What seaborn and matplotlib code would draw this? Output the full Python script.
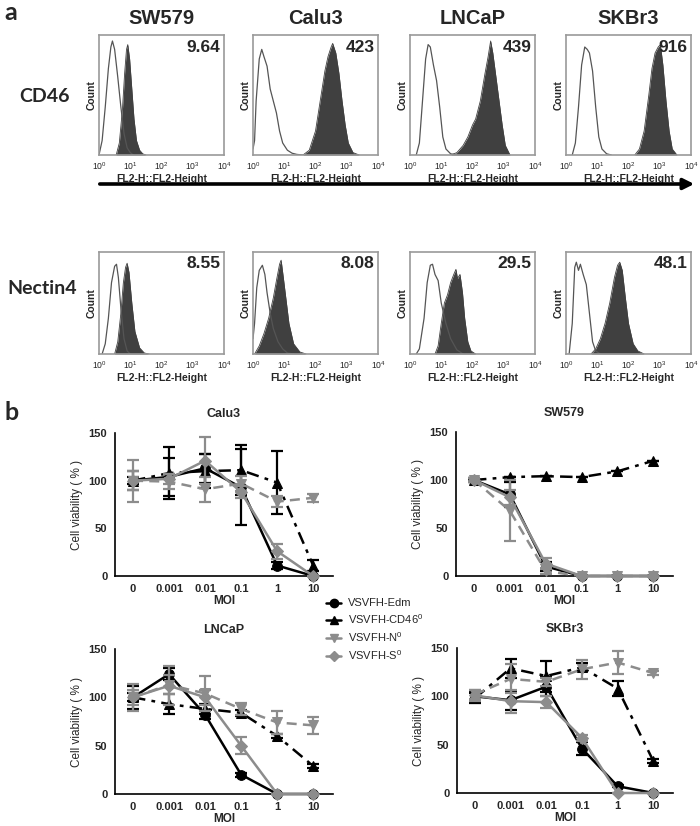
import matplotlib
matplotlib.use("Agg")
import matplotlib.pyplot as plt
import seaborn as sns
import numpy as np
from matplotlib.lines import Line2D
from matplotlib.patches import FancyArrowPatch

# ---- panel a: flow cytometry histograms (log10 FL2 position, relative count) ----
cell_lines = ["SW579", "Calu3", "LNCaP", "SKBr3"]
cd46_mfi = ["9.64", "423", "439", "916"]
nectin4_mfi = ["8.55", "8.08", "29.5", "48.1"]
hist_ticks = ["10$^0$", "10$^1$", "10$^2$", "10$^3$", "10$^4$"]

# CD46 row: isotype (open) and stained (filled)
sw579_cd46_iso = [(0.0, 0.0), (0.1, 0.12), (0.2, 0.4), (0.3, 0.72), (0.38, 0.9), (0.43, 0.95), (0.5, 0.88),
                  (0.6, 0.65), (0.7, 0.4), (0.8, 0.18), (0.9, 0.06), (1.0, 0.02), (1.1, 0.0)]
sw579_cd46_ab = [(0.55, 0.0), (0.65, 0.1), (0.75, 0.38), (0.82, 0.68), (0.88, 0.88), (0.92, 0.92), (0.98, 0.8),
                 (1.05, 0.55), (1.12, 0.3), (1.2, 0.12), (1.3, 0.04), (1.4, 0.01), (1.5, 0.0)]
calu3_cd46_iso = [(0.0, 0.05), (0.05, 0.12), (0.1, 0.45), (0.2, 0.8), (0.28, 0.88), (0.35, 0.82), (0.45, 0.74),
                  (0.55, 0.55), (0.65, 0.45), (0.75, 0.35), (0.85, 0.2), (0.95, 0.1), (1.1, 0.04), (1.25, 0.015),
                  (1.4, 0.005), (1.6, 0.0)]
calu3_cd46_ab = [(1.6, 0.0), (1.8, 0.04), (2.0, 0.2), (2.15, 0.45), (2.3, 0.7), (2.4, 0.82), (2.5, 0.9),
                 (2.55, 0.93), (2.65, 0.85), (2.75, 0.68), (2.85, 0.45), (2.95, 0.25), (3.05, 0.1), (3.2, 0.02),
                 (3.4, 0.0)]
lncap_cd46_iso = [(0.2, 0.0), (0.3, 0.1), (0.4, 0.45), (0.5, 0.8), (0.58, 0.92), (0.65, 0.9), (0.75, 0.75),
                  (0.85, 0.62), (0.95, 0.4), (1.05, 0.15), (1.15, 0.05), (1.3, 0.01), (1.5, 0.0)]
lncap_cd46_ab = [(1.3, 0.0), (1.5, 0.02), (1.7, 0.08), (1.85, 0.15), (2.0, 0.25), (2.1, 0.3), (2.25, 0.45),
                 (2.4, 0.68), (2.5, 0.82), (2.58, 0.95), (2.65, 0.85), (2.75, 0.65), (2.85, 0.45), (2.95, 0.25),
                 (3.05, 0.08), (3.2, 0.0)]
skbr3_cd46_iso = [(0.2, 0.0), (0.3, 0.1), (0.4, 0.4), (0.5, 0.75), (0.6, 0.9), (0.68, 0.88), (0.75, 0.85),
                  (0.85, 0.7), (0.95, 0.4), (1.05, 0.15), (1.15, 0.05), (1.3, 0.01), (1.45, 0.0)]
skbr3_cd46_ab = [(2.2, 0.0), (2.35, 0.05), (2.5, 0.2), (2.65, 0.5), (2.75, 0.72), (2.85, 0.85), (2.95, 0.9),
                 (3.02, 0.92), (3.1, 0.75), (3.2, 0.45), (3.3, 0.2), (3.4, 0.05), (3.55, 0.0)]

# Nectin4 row
sw579_nec_iso = [(0.1, 0.0), (0.2, 0.1), (0.3, 0.35), (0.4, 0.7), (0.5, 0.86), (0.56, 0.88), (0.62, 0.75),
                 (0.7, 0.45), (0.8, 0.15), (0.9, 0.03), (1.0, 0.0)]
sw579_nec_ab = [(0.5, 0.0), (0.6, 0.12), (0.7, 0.4), (0.78, 0.7), (0.85, 0.85), (0.9, 0.89), (0.96, 0.8),
                (1.05, 0.5), (1.15, 0.22), (1.3, 0.06), (1.45, 0.01), (1.6, 0.0)]
calu3_nec_iso = [(0.0, 0.15), (0.05, 0.3), (0.12, 0.65), (0.2, 0.82), (0.3, 0.87), (0.38, 0.78), (0.45, 0.6),
                 (0.55, 0.4), (0.65, 0.25), (0.8, 0.12), (0.95, 0.05), (1.1, 0.01), (1.3, 0.0)]
calu3_nec_ab = [(0.05, 0.0), (0.2, 0.08), (0.35, 0.2), (0.5, 0.35), (0.65, 0.55), (0.75, 0.72), (0.85, 0.88),
                (0.9, 0.92), (0.97, 0.75), (1.05, 0.55), (1.15, 0.3), (1.3, 0.1), (1.5, 0.02), (1.7, 0.0)]
lncap_nec_iso = [(0.2, 0.0), (0.3, 0.05), (0.45, 0.35), (0.55, 0.7), (0.65, 0.87), (0.72, 0.88), (0.8, 0.78),
                 (0.9, 0.72), (1.0, 0.5), (1.15, 0.3), (1.3, 0.15), (1.5, 0.04), (1.7, 0.0)]
lncap_nec_ab = [(0.8, 0.0), (0.9, 0.08), (1.0, 0.3), (1.1, 0.5), (1.2, 0.58), (1.3, 0.7), (1.4, 0.78),
                (1.47, 0.83), (1.52, 0.74), (1.6, 0.78), (1.68, 0.6), (1.75, 0.35), (1.85, 0.12), (1.95, 0.03),
                (2.1, 0.0)]
skbr3_nec_iso = [(0.1, 0.0), (0.2, 0.3), (0.28, 0.85), (0.33, 0.9), (0.4, 0.82), (0.46, 0.88), (0.55, 0.78),
                 (0.65, 0.68), (0.75, 0.4), (0.85, 0.12), (0.95, 0.03), (1.1, 0.0)]
skbr3_nec_ab = [(0.8, 0.0), (0.95, 0.05), (1.1, 0.15), (1.25, 0.3), (1.4, 0.5), (1.55, 0.75), (1.65, 0.87),
                (1.72, 0.9), (1.8, 0.82), (1.9, 0.55), (2.0, 0.3), (2.15, 0.1), (2.3, 0.03), (2.5, 0.0)]

cd46_curves = [(sw579_cd46_iso, sw579_cd46_ab), (calu3_cd46_iso, calu3_cd46_ab),
               (lncap_cd46_iso, lncap_cd46_ab), (skbr3_cd46_iso, skbr3_cd46_ab)]
nec_curves = [(sw579_nec_iso, sw579_nec_ab), (calu3_nec_iso, calu3_nec_ab),
              (lncap_nec_iso, lncap_nec_ab), (skbr3_nec_iso, skbr3_nec_ab)]

# ---- panel b: cell viability (%) vs MOI ----
moi_labels = ["0", "0.001", "0.01", "0.1", "1", "10"]
virus_names = ["VSVFH-Edm", "VSVFH-CD46$^0$", "VSVFH-N$^0$", "VSVFH-S$^0$"]

calu3_edm = [100, 104, 113, 93, 11, 0]
calu3_edm_err = [10, 20, 15, 40, 4, 0]
calu3_cd46 = [100, 108, 110, 111, 98, 11]
calu3_cd46_err = [4, 27, 18, 26, 33, 6]
calu3_n = [100, 99, 91, 97, 78, 82]
calu3_n_err = [22, 8, 13, 8, 6, 4]
calu3_s = [100, 102, 121, 88, 26, 0]
calu3_s_err = [10, 5, 25, 6, 8, 0]

sw579_edm = [100, 85, 10, 0, 0, 0]
sw579_edm_err = [2, 13, 5, 0, 0, 0]
sw579_cd46 = [100, 103, 104, 103, 109, 120]
sw579_cd46_err = [0, 0, 0, 0, 0, 0]
sw579_n = [100, 68, 5, 0, 0, 0]
sw579_n_err = [2, 32, 3, 0, 0, 0]
sw579_s = [100, 82, 13, 0, 0, 0]
sw579_s_err = [2, 8, 6, 0, 0, 0]

lncap_edm = [100, 124, 82, 20, 0, 0]
lncap_edm_err = [12, 6, 4, 2, 0, 0]
lncap_cd46 = [100, 93, 88, 84, 60, 29]
lncap_cd46_err = [4, 10, 5, 3, 2, 2]
lncap_n = [100, 113, 104, 88, 74, 71]
lncap_n_err = [14, 10, 18, 6, 12, 9]
lncap_s = [100, 112, 100, 50, 0, 0]
lncap_s_err = [8, 20, 8, 9, 0, 0]

skbr3_edm = [100, 96, 110, 46, 7, 0]
skbr3_edm_err = [6, 10, 10, 7, 1, 0]
skbr3_cd46 = [98, 129, 121, 130, 108, 33]
skbr3_cd46_err = [5, 10, 16, 4, 8, 2]
skbr3_n = [102, 118, 115, 128, 135, 124]
skbr3_n_err = [5, 15, 4, 10, 12, 2]
skbr3_s = [101, 95, 94, 57, 0, 0]
skbr3_s_err = [6, 12, 6, 3, 0, 0]

viab_panels = [
    ("Calu3", [calu3_edm, calu3_cd46, calu3_n, calu3_s],
     [calu3_edm_err, calu3_cd46_err, calu3_n_err, calu3_s_err]),
    ("SW579", [sw579_edm, sw579_cd46, sw579_n, sw579_s],
     [sw579_edm_err, sw579_cd46_err, sw579_n_err, sw579_s_err]),
    ("LNCaP", [lncap_edm, lncap_cd46, lncap_n, lncap_s],
     [lncap_edm_err, lncap_cd46_err, lncap_n_err, lncap_s_err]),
    ("SKBr3", [skbr3_edm, skbr3_cd46, skbr3_n, skbr3_s],
     [skbr3_edm_err, skbr3_cd46_err, skbr3_n_err, skbr3_s_err]),
]

sns.set_style("white")
plt.rcParams['font.family'] = ['Liberation Sans', 'DejaVu Sans']
plt.rcParams['mathtext.default'] = 'regular'

W, H = 700, 826
fig = plt.figure(figsize=(7, 8.26), dpi=100)


def px_axes(left, top, right, bottom):
    return fig.add_axes([left / W, 1 - bottom / H, (right - left) / W, (bottom - top) / H])


def ftext(x, y, s, **kw):
    fig.text(x / W, 1 - y / H, s, **kw)


GRAY = "#8c8c8c"
DARK = "#404040"
FRAME = "#9a9a9a"
LABEL_FONT = ['Lato', 'DejaVu Sans']

# panel a
hist_lefts = [99, 253, 410, 566]
hist_w = 125
rows = [(35, 155, cd46_curves, cd46_mfi), (252, 354, nec_curves, nectin4_mfi)]
for top, bottom, curves, mfis in rows:
    for j, left in enumerate(hist_lefts):
        ax = px_axes(left, top, left + hist_w, bottom)
        iso, ab = curves[j]
        ab_x, ab_y = zip(*ab)
        ax.fill_between(ab_x, ab_y, 0, color=DARK, lw=0)
        sns.lineplot(x=list(ab_x), y=list(ab_y), ax=ax, color=DARK, lw=0.6, sort=False)
        iso_x, iso_y = zip(*iso)
        sns.lineplot(x=list(iso_x), y=list(iso_y), ax=ax, color="#555555", lw=0.9, sort=False)
        ax.set_xlim(0, 4)
        ax.set_ylim(0, 1.0)
        ax.set_yticks([])
        ax.set_xticks(range(5))
        ax.set_xticklabels(hist_ticks, fontsize=6.2)
        ax.set_xticks([k + np.log10(m) for k in range(4) for m in range(2, 10)], minor=True)
        ax.tick_params(axis='x', which='major', length=3, width=0.6, color=FRAME, pad=1)
        ax.tick_params(axis='x', which='minor', length=1.5, width=0.5, color=FRAME)
        for sp in ax.spines.values():
            sp.set_color(FRAME)
            sp.set_linewidth(1.2)
        ax.set_xlabel("FL2-H::FL2-Height", fontsize=7.5, fontweight='bold', labelpad=1)
        ax.set_ylabel("Count", fontsize=7.5, fontweight='bold', labelpad=2)
        ax.text(0.97, 0.96, mfis[j], transform=ax.transAxes, ha='right', va='top',
                fontsize=12.5, fontweight='bold')

for j, left in enumerate(hist_lefts):
    ftext(left + hist_w / 2, 18, cell_lines[j], ha='center', va='center', fontsize=14.5, fontweight='bold')

ftext(4, 12, "a", ha='left', va='center', fontsize=18, fontweight='bold', family=LABEL_FONT)
ftext(4, 413, "b", ha='left', va='center', fontsize=18, fontweight='bold', family=LABEL_FONT)
ftext(45, 96, "CD46", ha='center', va='center', fontsize=14, fontweight='bold', family=LABEL_FONT)
ftext(42, 288, "Nectin4", ha='center', va='center', fontsize=14, fontweight='bold', family=LABEL_FONT)

arrow = FancyArrowPatch((97 / W, 1 - 184 / H), (697 / W, 1 - 184 / H), transform=fig.transFigure,
                        arrowstyle='-|>', mutation_scale=16, lw=2.6, color='black')
fig.add_artist(arrow)

# panel b
styles = [
    dict(color='black', marker='o', ms=7, ls='-'),
    dict(color='black', marker='^', ms=7, ls=(0, (5, 2.5, 1.5, 2.5))),
    dict(color=GRAY, marker='v', ms=7, ls=(0, (4, 2.5))),
    dict(color=GRAY, marker='D', ms=6, ls='-'),
]
viab_boxes = [(115, 433, 333, 576), (456, 432, 673, 576), (115, 649, 333, 794), (457, 648, 673, 793)]
xpos = list(range(len(moi_labels)))
for (title, means, errs), (l, t, r, b) in zip(viab_panels, viab_boxes):
    ax = px_axes(l, t, r, b)
    for k in range(4):
        st = styles[k]
        ax.errorbar(xpos, means[k], yerr=errs[k], fmt='none', ecolor=st['color'], elinewidth=1.6,
                    capsize=4.5, capthick=1.6, clip_on=False, zorder=2 + k)
        sns.lineplot(x=xpos, y=means[k], ax=ax, color=st['color'], marker=st['marker'],
                     markersize=st['ms'], markeredgecolor=st['color'], linestyle=st['ls'],
                     lw=1.8, clip_on=False, zorder=3 + k)
    ax.set_xlim(-0.5, 5.55)
    ax.set_ylim(0, 150)
    ax.set_yticks([0, 50, 100, 150])
    ax.set_xticks(xpos)
    ax.set_xticklabels(moi_labels)
    sns.despine(ax=ax)
    for sp in ['left', 'bottom']:
        ax.spines[sp].set_color('black')
        ax.spines[sp].set_linewidth(1.2)
    ax.tick_params(axis='both', length=3.5, width=1.1, color='black', labelsize=8, pad=2, direction='out')
    for lab in ax.get_xticklabels() + ax.get_yticklabels():
        lab.set_fontweight('bold')
    ax.set_xlabel("MOI", fontsize=8.5, fontweight='bold', labelpad=1)
    ax.set_ylabel("Cell viability ( % )", fontsize=8.5, labelpad=4)
    ftext((l + r) / 2, t - 19, title, ha='center', va='center', fontsize=9, fontweight='bold')

handles = [Line2D([0], [0], color=st['color'], marker=st['marker'], markersize=st['ms'] - 1,
                  lw=1.8, ls='-') for st in styles]
fig.legend(handles, virus_names, loc='upper left', bbox_to_anchor=(322 / W, 1 - 594 / H),
           frameon=False, fontsize=8, handlelength=1.3, handletextpad=0.6, labelspacing=0.35,
           borderaxespad=0)

fig.savefig("out.png", dpi=100)
